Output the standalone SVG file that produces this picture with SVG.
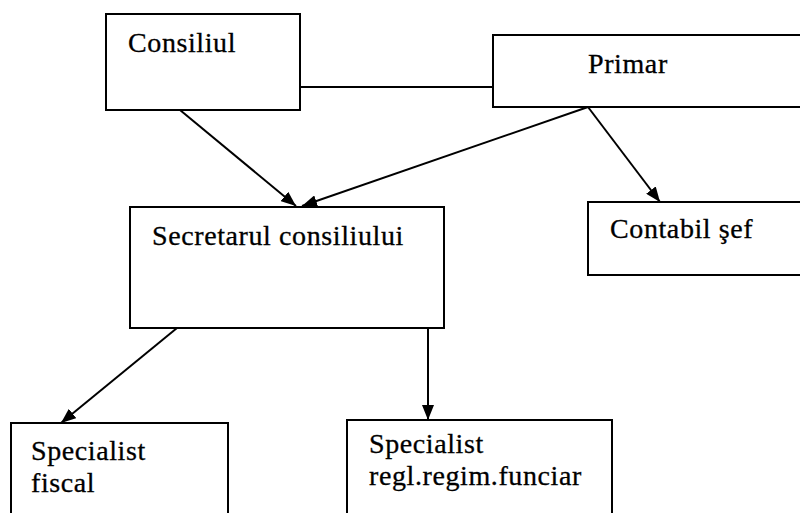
<svg xmlns="http://www.w3.org/2000/svg" width="800" height="513" viewBox="0 0 800 513">
<defs>
<style>
.box{fill:#fff;stroke:#000;stroke-width:2}
.lbl{font-family:"Liberation Serif","Times New Roman",serif;font-size:28px;letter-spacing:0.6px;fill:#000;stroke:#000;stroke-width:0.3px}
.edge{stroke:#000;stroke-width:2;fill:none}
</style>
<marker id="arr" viewBox="0 0 15 12" refX="15" refY="6" markerWidth="15" markerHeight="12" markerUnits="userSpaceOnUse" orient="auto">
<path d="M0,0 L15,6 L0,12 Z" fill="#000"/>
</marker>
</defs>
<rect width="800" height="513" fill="#fff"/>
<g id="connectors">
<line class="edge" x1="300" y1="87" x2="493" y2="87"/>
<line class="edge" x1="180" y1="110" x2="296" y2="206" marker-end="url(#arr)"/>
<line class="edge" x1="588" y1="107" x2="302" y2="206" marker-end="url(#arr)"/>
<line class="edge" x1="588" y1="107" x2="660" y2="202" marker-end="url(#arr)"/>
<line class="edge" x1="177" y1="328" x2="61" y2="423" marker-end="url(#arr)"/>
<line class="edge" x1="428" y1="328" x2="428" y2="420" marker-end="url(#arr)"/>
</g>
<g id="consiliul">
<rect class="box" x="106" y="14" width="194" height="96"/>
<text class="lbl" x="128" y="52">Consiliul</text>
</g>
<g id="primar">
<rect class="box" x="493" y="35" width="320" height="72"/>
<text class="lbl" x="588" y="73">Primar</text>
</g>
<g id="secretarul">
<rect class="box" x="130" y="207" width="314" height="121"/>
<text class="lbl" x="152" y="245">Secretarul consiliului</text>
</g>
<g id="contabil">
<rect class="box" x="588" y="202" width="225" height="73"/>
<text class="lbl" x="610" y="238">Contabil şef</text>
</g>
<g id="specialist-fiscal">
<rect class="box" x="11" y="423" width="217" height="100"/>
<text class="lbl" x="31" y="460">Specialist</text>
<text class="lbl" x="31" y="492">fiscal</text>
</g>
<g id="specialist-regl">
<rect class="box" x="347" y="420" width="265" height="103"/>
<text class="lbl" x="369" y="453">Specialist</text>
<text class="lbl" x="369" y="485">regl.regim.funciar</text>
</g>
</svg>
